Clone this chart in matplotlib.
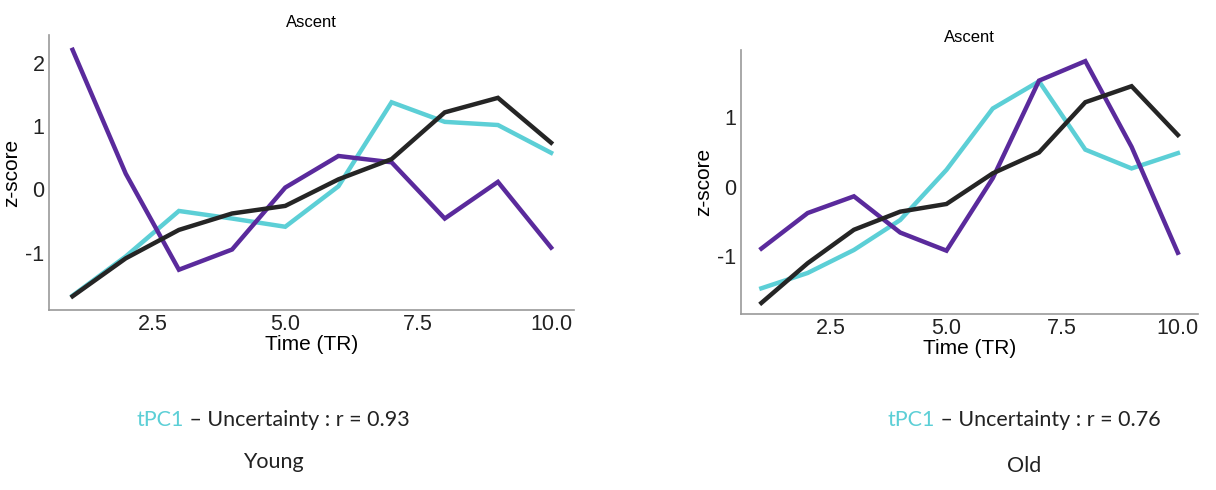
import numpy as np
from matplotlib import pyplot as plt

# time points (TR)
tiempo = [1, 2, 3, 4, 5, 6, 7, 8, 9, 10]

# Young
young_tpc1 = [-1.68, -1.06, -0.34, -0.46, -0.59, 0.05, 1.38, 1.07, 1.02, 0.58]
young_purple = [2.21, 0.25, -1.27, -0.95, 0.03, 0.53, 0.43, -0.46, 0.12, -0.92]
young_uncert = [-1.69, -1.09, -0.64, -0.38, -0.26, 0.16, 0.48, 1.22, 1.45, 0.74]

# Old
old_tpc1 = [-1.46, -1.24, -0.91, -0.48, 0.24, 1.12, 1.51, 0.53, 0.26, 0.48]
old_purple = [-0.89, -0.38, -0.14, -0.66, -0.92, 0.12, 1.52, 1.80, 0.57, -0.95]
old_uncert = [-1.67, -1.10, -0.62, -0.36, -0.25, 0.19, 0.49, 1.21, 1.44, 0.74]

xticks = [2.5, 5.0, 7.5, 10.0]
xtick_labels = ['2.5', '5.0', '7.5', '10.0']
yticks = [-1, 0, 1, 2]

cian = '#5ccfd6'
morado = '#5a2a9c'
negro = '#252525'

plt.rcParams['font.family'] = ['Liberation Sans', 'DejaVu Sans']
plt.rcParams['axes.unicode_minus'] = False

fig = plt.figure(figsize=(12.16, 4.9), dpi=100)
ax1 = fig.add_axes([0.040, 0.367, 0.432, 0.561])
ax2 = fig.add_axes([0.609, 0.359, 0.376, 0.539])


def panel(ax, tpc1, purple, uncert, ylim, ylab_x):
    ax.plot(tiempo, tpc1, color=cian, lw=3.2, solid_joinstyle='miter')
    ax.plot(tiempo, purple, color=morado, lw=3.2, solid_joinstyle='miter')
    ax.plot(tiempo, uncert, color=negro, lw=3.2, solid_joinstyle='miter')
    ax.set_xlim(0.55, 10.43)
    ax.set_ylim(*ylim)
    ax.set_xticks(xticks, xtick_labels)
    ax.set_yticks([t for t in yticks if ylim[0] < t < ylim[1]])
    ax.tick_params(length=0, labelsize=15.5, colors='#222222', pad=3)
    for s in ['top', 'right']:
        ax.spines[s].set_visible(False)
    for s in ['left', 'bottom']:
        ax.spines[s].set_color('#999999')
        ax.spines[s].set_linewidth(1.2)
    ax.set_title('Ascent', fontsize=12, pad=6)
    ax.set_xlabel('Time (TR)', fontsize=15, labelpad=0)
    ax.set_ylabel('z-score', fontsize=15)
    ax.yaxis.set_label_coords(ylab_x, 0.5)


panel(ax1, young_tpc1, young_purple, young_uncert, (-1.91, 2.44), -0.053)
panel(ax2, old_tpc1, old_purple, old_uncert, (-1.83, 1.96), -0.061)

cap_font = ['Lato', 'DejaVu Sans']
fig.text(0.151, 0.143, 'tPC1', color=cian, fontsize=15.5, ha='right', va='center', family=cap_font)
fig.text(0.151, 0.143, ' \u2013 Uncertainty : r = 0.93', color='#222222', fontsize=15.5, ha='left', va='center', family=cap_font)
fig.text(0.225, 0.057, 'Young', color='#222222', fontsize=15.5, ha='center', va='center', family=cap_font)

fig.text(0.769, 0.143, 'tPC1', color=cian, fontsize=15.5, ha='right', va='center', family=cap_font)
fig.text(0.769, 0.143, ' \u2013 Uncertainty : r = 0.76', color='#222222', fontsize=15.5, ha='left', va='center', family=cap_font)
fig.text(0.842, 0.049, 'Old', color='#222222', fontsize=15.5, ha='center', va='center', family=cap_font)

plt.savefig('out.png', dpi=100)
